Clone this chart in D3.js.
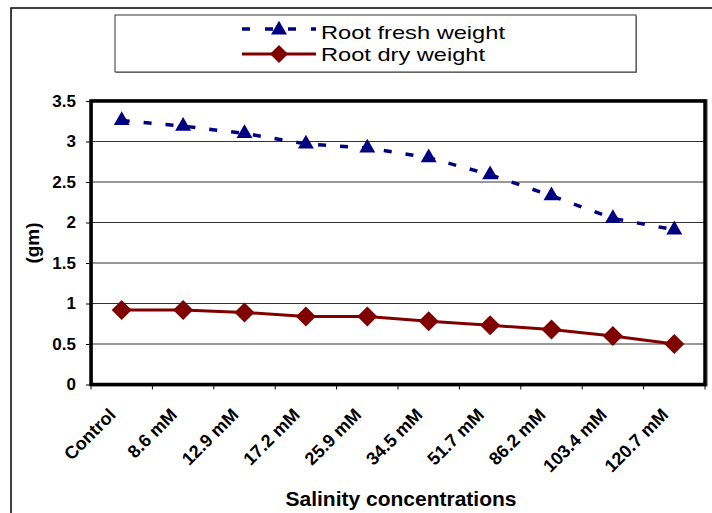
<!DOCTYPE html>
<html><head><meta charset="utf-8">
<script src="https://cdn.jsdelivr.net/npm/d3@7"></script>
<style>body{margin:0;background:#fff}svg{display:block;font-family:Arial,"Liberation Sans",sans-serif}</style>
</head><body>
<svg id="c" width="712" height="513"></svg>
<script>
const categories = ["Control","8.6 mM","12.9 mM","17.2 mM","25.9 mM","34.5 mM","51.7 mM","86.2 mM","103.4 mM","120.7 mM"];
const freshWeight = [3.26,3.19,3.10,2.97,2.92,2.80,2.59,2.33,2.05,1.91];
const dryWeight = [0.92,0.92,0.89,0.84,0.84,0.78,0.73,0.68,0.60,0.50];
const yTicks = [0,0.5,1,1.5,2,2.5,3,3.5];
const seriesNames = ["Root fresh weight","Root dry weight"];

const svg = d3.select("#c");
const m = {left:91, right:705, top:101, bottom:384.5};

// outer frame
svg.append("rect").attr("x",11).attr("y",8).attr("width",720).attr("height",520)
  .attr("fill","none").attr("stroke","#000").attr("stroke-width",1.5);

const x = d3.scaleBand().domain(categories).range([m.left,m.right]);
const y = d3.scaleLinear().domain([0,3.5]).range([m.bottom,m.top]);

// plot shadow
svg.append("rect").attr("x",m.left+1).attr("y",m.top-1).attr("width",m.right-m.left+1).attr("height",m.bottom-m.top+2)
  .attr("fill","none").attr("stroke","#999").attr("stroke-width",2);

// gridlines
svg.append("g").selectAll("line").data(yTicks.filter(d=>d>0&&d<3.5)).join("line")
  .attr("x1",m.left).attr("x2",m.right).attr("y1",d=>y(d)).attr("y2",d=>y(d))
  .attr("stroke","#333").attr("stroke-width",1);

// y axis
const ya = svg.append("g").attr("transform",`translate(${m.left},0)`)
  .call(d3.axisLeft(y).tickValues(yTicks).tickSize(5).tickPadding(10).tickFormat(d3.format("")));
ya.select(".domain").remove();
ya.selectAll("line").attr("stroke","#000");
ya.selectAll("text").attr("font-size",17).attr("font-weight","bold").attr("fill","#000").attr("font-family","Arial, Liberation Sans, sans-serif");

// x axis ticks at band boundaries
const bounds = categories.map(c=>x(c)).concat([m.right]);
svg.append("g").selectAll("line").data(bounds).join("line")
  .attr("x1",d=>d).attr("x2",d=>d).attr("y1",m.bottom).attr("y2",m.bottom+5).attr("stroke","#000");

// x labels
svg.append("g").selectAll("text").data(categories).join("text")
  .attr("transform",d=>`translate(${x(d)+x.bandwidth()/2-5},${416}) rotate(-45)`)
  .attr("text-anchor","end").attr("font-size",18).attr("font-weight","bold").text(d=>d);

// plot border
svg.append("rect").attr("x",m.left).attr("y",m.top).attr("width",m.right-m.left).attr("height",m.bottom-m.top)
  .attr("fill","none").attr("stroke","#000").attr("stroke-width",3.5);

const cx = d=>x(d)+x.bandwidth()/2;
const line = d3.line().x((d,i)=>cx(categories[i])).y(d=>y(d));

svg.append("path").datum(freshWeight).attr("d",line).attr("fill","none")
  .attr("stroke","#000080").attr("stroke-width",3.5).attr("stroke-dasharray","8,14");
svg.append("path").datum(dryWeight).attr("d",line).attr("fill","none")
  .attr("stroke","#800000").attr("stroke-width",3);

const tri = d3.symbol().type(d3.symbolTriangle).size(110);
const dia = (s)=>`M0,${-s}L${s},0L0,${s}L${-s},0Z`;
svg.append("g").selectAll("path").data(freshWeight).join("path")
  .attr("transform",(d,i)=>`translate(${cx(categories[i])},${y(d)})`).attr("d",tri()).attr("fill","#000080");
svg.append("g").selectAll("path").data(dryWeight).join("path")
  .attr("transform",(d,i)=>`translate(${cx(categories[i])},${y(d)})`).attr("d",dia(10)).attr("fill","#800000");

// axis titles
svg.append("text").attr("transform","translate(39,243) rotate(-90)").attr("text-anchor","middle")
  .attr("font-size",19).attr("font-weight","bold").text("(gm)");
svg.append("text").attr("x",401).attr("y",506).attr("text-anchor","middle")
  .attr("font-size",21).attr("font-weight","bold").text("Salinity concentrations");

// legend
svg.append("rect").attr("x",116).attr("y",16).attr("width",521).attr("height",57).attr("fill","#999");
svg.append("rect").attr("x",115).attr("y",15).attr("width",521).attr("height",57).attr("fill","#fff").attr("stroke","#333").attr("stroke-width",1);
const lg = svg.append("g");
lg.append("line").attr("x1",242).attr("x2",316).attr("y1",29).attr("y2",29)
  .attr("stroke","#000080").attr("stroke-width",3.5).attr("stroke-dasharray","8,15");
lg.append("path").attr("transform","translate(279,30)").attr("d",tri()).attr("fill","#000080");
lg.append("line").attr("x1",242).attr("x2",316).attr("y1",54).attr("y2",54)
  .attr("stroke","#800000").attr("stroke-width",3);
lg.append("path").attr("transform","translate(279,54)").attr("d",dia(9)).attr("fill","#800000");
lg.selectAll("text.l").data(seriesNames).join("text").attr("x",321).attr("y",(d,i)=>39+i*22)
  .attr("font-size",19).attr("textLength",(d,i)=>i===0?184:164).attr("lengthAdjust","spacingAndGlyphs").text(d=>d);
</script>
</body></html>
